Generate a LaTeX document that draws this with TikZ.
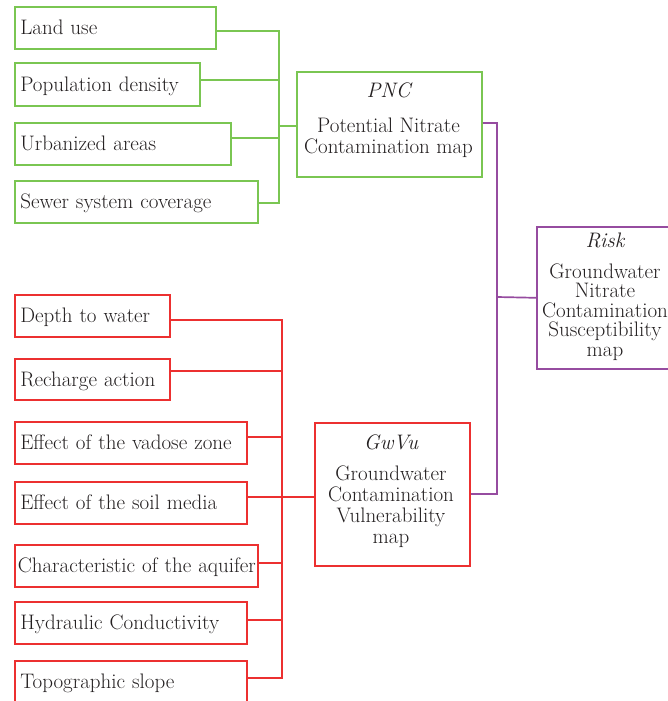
\documentclass[tikz,border=0pt]{standalone}
\usepackage{fontspec}
\definecolor{gr}{RGB}{122,198,82}
\definecolor{rd}{RGB}{236,48,48}
\definecolor{pu}{RGB}{150,76,160}
\definecolor{tx}{RGB}{35,31,32}
\begin{document}
\begin{tikzpicture}[x=1pt,y=-1pt,
  fnt/.style={font=\fontsize{21}{21}\selectfont},
  leaf/.style={draw=#1, line width=1.6pt, anchor=north west, inner xsep=5.5pt, inner ysep=0pt,
    align=left, text height=15pt, text depth=1pt, fnt, text=tx},
  bigbox/.style={draw=#1, line width=1.6pt, anchor=north west, inner sep=0pt},
  lab/.style={fnt, text=tx, inner sep=0pt},
  gline/.style={draw=gr, line width=1.6pt},
  rline/.style={draw=rd, line width=1.6pt},
  pline/.style={draw=pu, line width=1.7pt}]
\useasboundingbox (0,0) rectangle (667,701);
% green inputs
\node[leaf=gr, minimum height=42, text width=190] (lu) at (14,6) {Land use};
\node[leaf=gr, minimum height=43, text width=174] (pd) at (14,62) {Population density};
\node[leaf=gr, minimum height=42, text width=205] (ua) at (14,122) {Urbanized areas};
\node[leaf=gr, minimum height=42, text width=232] (ss) at (14,180) {Sewer system coverage};
% PNC
\node[bigbox=gr, minimum width=185, minimum height=105] (pnc) at (296,71) {};
\node[lab, anchor=base, font=\fontsize{21}{21}\selectfont\itshape] (pncl) at (388.5,97) {PNC};
\node[lab, anchor=north, align=center] (pnct) at (388.5,117.4) {Potential Nitrate\\Contamination map};
% red inputs
\node[leaf=rd, minimum height=42, text width=144] (dw) at (14,294) {Depth to water};
\node[leaf=rd, minimum height=41, text width=144] (ra) at (14,358) {Recharge action};
\node[leaf=rd, minimum height=42, text width=221] (vz) at (14,421) {Effect of the vadose zone};
\node[leaf=rd, minimum height=42, text width=221] (sm) at (14,481) {Effect of the soil media};
\node[leaf=rd, minimum height=42, text width=232] (aq) at (14,544) {\mbox{\hspace*{-2.5pt}Characteristic of the aquifer}};
\node[leaf=rd, minimum height=42, text width=221] (hc) at (14,601) {Hydraulic Conductivity};
\node[leaf=rd, minimum height=42, text width=221] (ts) at (14,660) {Topographic slope};
% GwVu
\node[bigbox=rd, minimum width=155, minimum height=143] (gw) at (314,422) {};
\node[lab, anchor=base, font=\fontsize{21}{21}\selectfont\itshape] (gwl) at (391,449) {GwVu};
\node[lab, anchor=north, align=center] (gwt) at (391,465.4) {Groundwater\\Contamination\\Vulnerability\\map};
% Risk
\node[bigbox=pu, minimum width=138, minimum height=142] (risk) at (536,226) {};
\node[lab, anchor=base, font=\fontsize{21}{21}\selectfont\itshape] (riskl) at (605,247) {Risk};
\node[lab, anchor=north, align=center, font=\fontsize{21}{19.5}\selectfont] (riskt) at (605,263.4) {Groundwater\\Nitrate\\Contamination\\Susceptibility\\map};
% buses
\coordinate (gb) at (279,30);
\coordinate (rb) at (282,319);
\coordinate (pb) at (497,297);
% green connectors
\draw[gline] ([yshift=-3pt]lu.east) -| (gb);
\draw[gline] ([yshift=4.5pt]pd.east) -| (gb);
\draw[gline] ([yshift=6pt]ua.east) -| (gb);
\draw[gline] ([yshift=-1pt]ss.east) -| (gb);
\draw[gline] ([yshift=-1.5pt]pnc.west) -| (gb);
% red connectors
\draw[rline] ([yshift=-4pt]dw.east) -| (rb);
\draw[rline] ([yshift=8.5pt]ra.east) -| (rb);
\draw[rline] ([yshift=6pt]vz.east) -| (rb);
\draw[rline] ([yshift=6pt]sm.east) -| (rb);
\draw[rline] ([yshift=3pt]aq.east) -| (rb);
\draw[rline] ([yshift=3pt]hc.east) -| (rb);
\draw[rline] ([yshift=4pt]ts.east) -| (rb);
\draw[rline] ([yshift=-2.5pt]gw.west) -| (rb);
% purple connectors
\draw[pline] ([yshift=1.5pt]pnc.east) -| (pb);
\draw[pline] ([yshift=0.5pt]gw.east) -| (pb);
\draw[pline] (risk.west) -- (pb);
\end{tikzpicture}
\end{document}
